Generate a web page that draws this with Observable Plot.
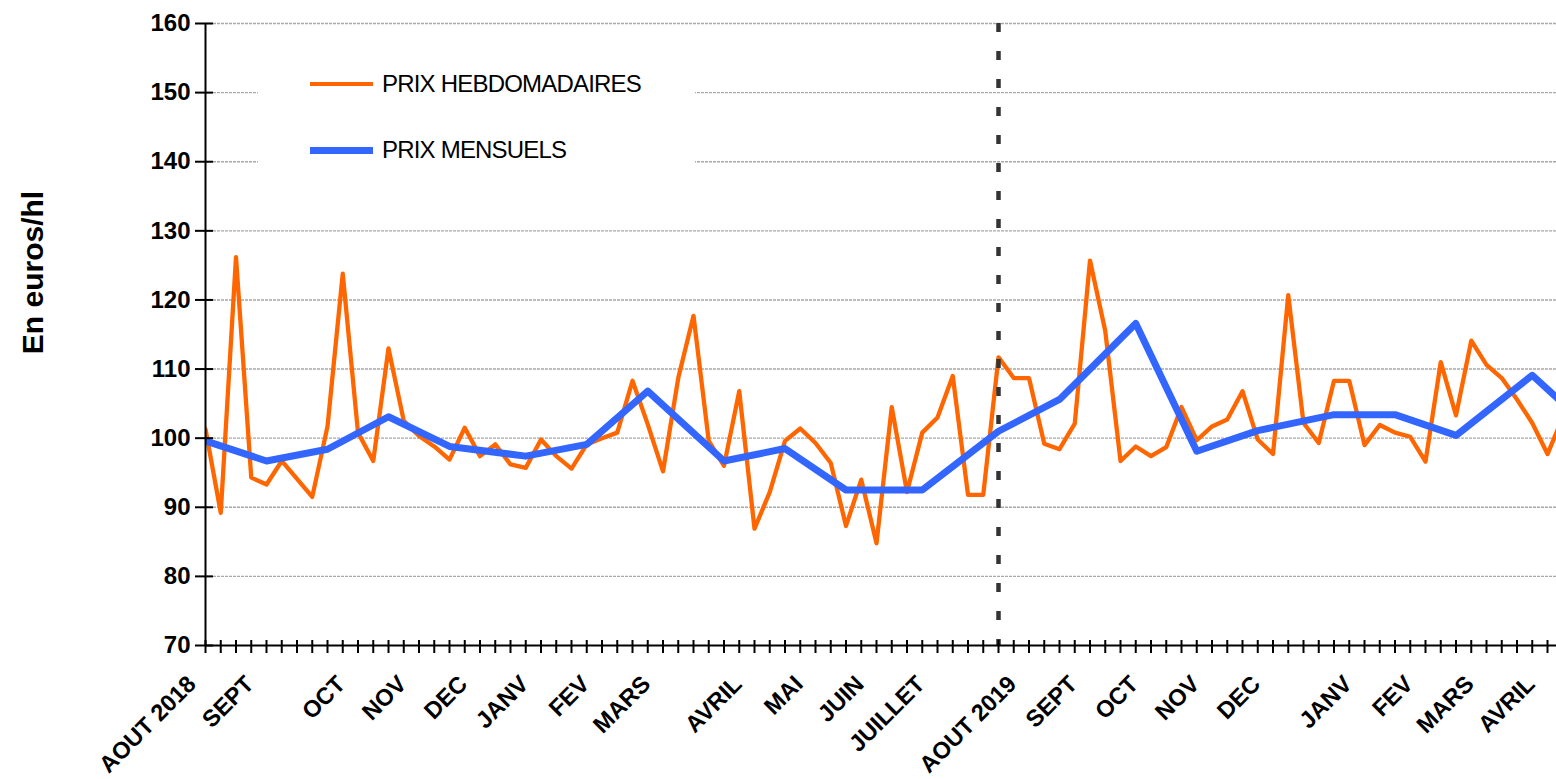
<!DOCTYPE html>
<html>
<head>
<meta charset="utf-8">
<script src="https://cdn.jsdelivr.net/npm/d3@7"></script>
<script src="https://cdn.jsdelivr.net/npm/@observablehq/plot@0.6"></script>
<style>
  html, body { margin: 0; padding: 0; background: #fff; }
  #wrap { position: relative; width: 1556px; height: 779px; overflow: hidden; }
  #legend { position: absolute; left: 258px; top: 56px; width: 437px; height: 122px; background: #fff;
            font-family: "Liberation Sans", Arial, sans-serif; font-size: 24px; color: #000; }
  .row { position: absolute; left: 52px; display: flex; align-items: center; }
  .sw { width: 63px; margin-right: 9px; }
  .txt { letter-spacing: -0.8px; }
</style>
</head>
<body>
<div id="wrap">
  <div id="chart"></div>
  <div id="legend">
    <div class="row" style="top:14px"><div class="sw" style="height:4px;background:#ff6600"></div><span class="txt">PRIX HEBDOMADAIRES</span></div>
    <div class="row" style="top:80px"><div class="sw" style="height:7px;background:#3366ff"></div><span class="txt">PRIX MENSUELS</span></div>
  </div>
</div>
<script>
// Weekly prices (euros/hl), one value per week starting AOUT 2018
const weeklyPrices = [101.3, 89.2, 126.2, 94.3, 93.3, 96.7, 94.1, 91.5, 101.7, 123.8,
  100.8, 96.7, 113.0, 102.5, 100.3, 98.8, 96.9, 101.5, 97.4, 99.1,
  96.2, 95.7, 99.8, 97.4, 95.6, 99.1, 100.0, 100.8, 108.3, 102.0,
  95.2, 108.7, 117.7, 99.6, 96.0, 106.8, 86.9, 92.2, 99.6, 101.4,
  99.3, 96.4, 87.3, 94.0, 84.8, 104.5, 92.2, 100.8, 103.0, 109.0,
  91.8, 91.8, 111.7, 108.7, 108.7, 99.2, 98.4, 102.1, 125.7, 115.5,
  96.7, 98.8, 97.4, 98.7, 104.5, 99.7, 101.7, 102.7, 106.8, 99.8,
  97.7, 120.7, 102.2, 99.3, 108.3, 108.3, 99.0, 101.9, 100.8, 100.2,
  96.6, 111.0, 103.3, 114.1, 110.6, 108.7, 105.6, 102.2, 97.7, 103.0];

// Monthly prices: week index of each monthly point and its value
const monthlyWeek = [0, 4, 8, 12, 16, 21, 25, 29, 34, 38, 42, 47, 52, 56, 61, 65, 69, 74, 78, 82, 87, 91];
const monthlyPrices = [99.6, 96.7, 98.4, 103.1, 98.8, 97.4, 99.1, 106.8, 96.7, 98.5, 92.5, 92.5,
  101.0, 105.6, 116.6, 98.1, 101.1, 103.4, 103.4, 100.4, 109.1, 101.0];

// Category (month) labels on the x axis and the week they sit on
const monthLabels = ["AOUT 2018", "SEPT", "OCT", "NOV", "DEC", "JANV", "FEV", "MARS", "AVRIL", "MAI", "JUIN", "JUILLET",
  "AOUT 2019", "SEPT", "OCT", "NOV", "DEC", "JANV", "FEV", "MARS", "AVRIL"];
const monthLabelWeek = [-0.8, 3, 9, 13, 17, 21, 25, 29, 35, 39, 43, 47, 53, 57, 61, 65, 69, 75, 79, 83, 87];

const yTicks = [70, 80, 90, 100, 110, 120, 130, 140, 150, 160];
const weekTicks = d3.range(0, 89);
const splitWeek = [52];
const yTitle = ["En euros/hl"];

const weekly = weeklyPrices.map((v, i) => ({week: i, price: v}));
const monthly = monthlyPrices.map((v, i) => ({week: monthlyWeek[i], price: v}));
const labels = monthLabels.map((l, i) => ({label: l, week: monthLabelWeek[i]}));

const chart = Plot.plot({
  width: 1556,
  height: 779,
  marginLeft: 205,
  marginRight: 0,
  marginTop: 23,
  marginBottom: 134,
  x: {domain: [0, 88.59], axis: null},
  y: {domain: [70, 160], axis: null},
  style: {fontFamily: "'Liberation Sans', Arial, sans-serif", background: "#fff", overflow: "visible"},
  marks: [
    Plot.ruleY(yTicks.slice(1), {y: d => d, stroke: "#a8a8a8", strokeWidth: 1.4, strokeDasharray: "3,1"}),
    Plot.line(weekly, {x: "week", y: "price", stroke: "#ff6600", strokeWidth: 4.3, clip: true}),
    Plot.line(monthly, {x: "week", y: "price", stroke: "#3366ff", strokeWidth: 7, clip: true}),
    Plot.ruleX(splitWeek, {x: d => d, stroke: "#333", strokeWidth: 4.5, strokeDasharray: "9,19"}),
    Plot.ruleX([0], {x: d => d, stroke: "#000", strokeWidth: 2}),
    Plot.ruleY([70], {y: d => d, stroke: "#000", strokeWidth: 2}),
    // crossing tick marks
    Plot.ruleY(yTicks, {y: d => d, x1: 0, x2: 0, insetLeft: -10, insetRight: -8, stroke: "#000", strokeWidth: 2}),
    Plot.ruleX(weekTicks, {x: d => d, y1: 70, y2: 70, insetTop: -5, insetBottom: -8, stroke: "#000", strokeWidth: 2}),
    // y tick labels
    Plot.text(yTicks, {y: d => d, text: d => String(d), frameAnchor: "left", dx: -15, textAnchor: "end",
      fontSize: 24, fontWeight: "bold", fill: "#000"}),
    // x month labels
    Plot.text(labels, {x: "week", text: "label", frameAnchor: "bottom", dy: 40, dx: 4, rotate: -45,
      textAnchor: "end", fontSize: 23.5, fontWeight: "bold", fill: "#000"}),
    // y axis title
    Plot.text(yTitle, {text: d => d, frameAnchor: "left", dx: -172, dy: -62, rotate: -90, textAnchor: "middle",
      fontSize: 30, fontWeight: "bold", fill: "#000"})
  ]
});
document.getElementById("chart").appendChild(chart);
</script>
</body>
</html>
